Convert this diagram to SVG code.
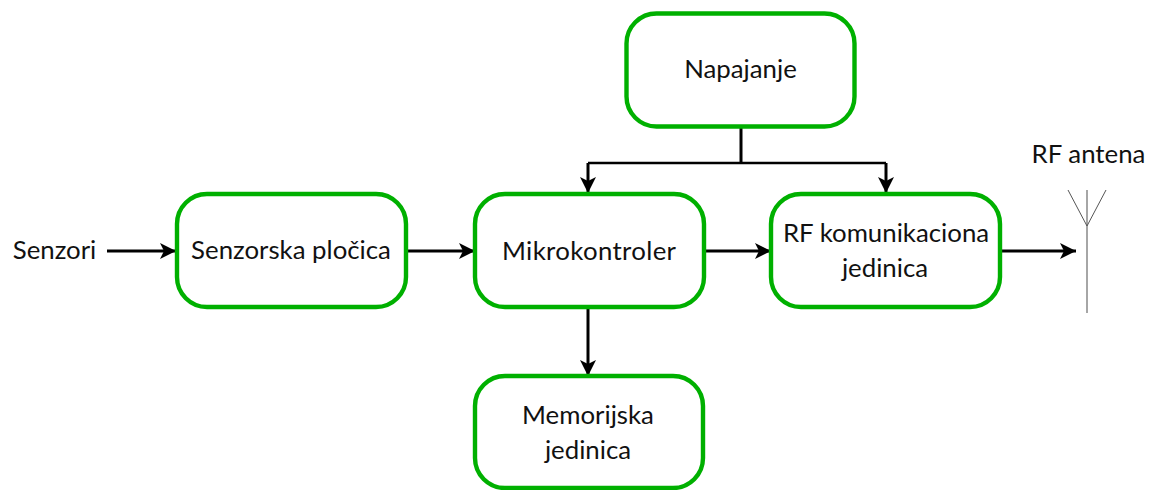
<svg xmlns="http://www.w3.org/2000/svg" width="1153" height="490" viewBox="0 0 1153 490">
<style>
.n{fill:#fff;stroke:#00b000;stroke-width:4.4}
.t{font-family:"Lato","Carlito","Open Sans",sans-serif;font-size:25.8px;fill:#111;text-anchor:middle}
.c{fill:none;stroke:#000;stroke-width:3}
.a{fill:none;stroke:#555;stroke-width:1}
</style>
<defs>
<marker id="ah" markerUnits="userSpaceOnUse" markerWidth="16" markerHeight="16" refX="16" refY="8" orient="auto"><path d="M0 0L16 8L0 16L4 8Z" fill="#000"/></marker>
</defs>
<rect width="1153" height="490" fill="#fff"/>
<g id="connectors">
<path class="c" d="M741 125V163"/>
<path class="c" d="M588 163H886" style="stroke-width:2.5"/>
<path class="c" d="M588 163V193" marker-end="url(#ah)"/>
<path class="c" d="M886 163V193" marker-end="url(#ah)"/>
<path class="c" d="M107 251H176" marker-end="url(#ah)"/>
<path class="c" d="M406 251H475" marker-end="url(#ah)"/>
<path class="c" d="M704 251H771" marker-end="url(#ah)"/>
<path class="c" d="M1000 251H1076" marker-end="url(#ah)"/>
<path class="c" d="M588 307V376" marker-end="url(#ah)"/>
</g>
<g id="napajanje"><rect class="n" x="626.5" y="13.5" width="228" height="113" rx="30"/><text class="t" x="740.5" y="78">Napajanje</text></g>
<g id="senzorska"><rect class="n" x="177" y="194" width="229" height="113" rx="30"/><text class="t" x="291" y="259">Senzorska pločica</text></g>
<g id="mikrokontroler"><rect class="n" x="475" y="194" width="229" height="113" rx="30"/><text class="t" x="589" y="259.5" textLength="174">Mikrokontroler</text></g>
<g id="rf"><rect class="n" x="771" y="194" width="229" height="113" rx="30"/><text class="t" x="886" y="242">RF komunikaciona</text><text class="t" x="885" y="277">jedinica</text></g>
<g id="memorija"><rect class="n" x="475" y="376" width="228" height="112" rx="30"/><text class="t" x="588" y="424">Memorijska</text><text class="t" x="588" y="459">jedinica</text></g>
<g id="senzori"><text class="t" x="54.5" y="259">Senzori</text></g>
<g id="antena">
<path d="M1087 190V313" fill="none" stroke="#888" stroke-width="1.5"/>
<path class="a" d="M1068 190L1087 226L1106 190"/>
<text class="t" x="1088.5" y="163">RF antena</text>
</g>
</svg>
